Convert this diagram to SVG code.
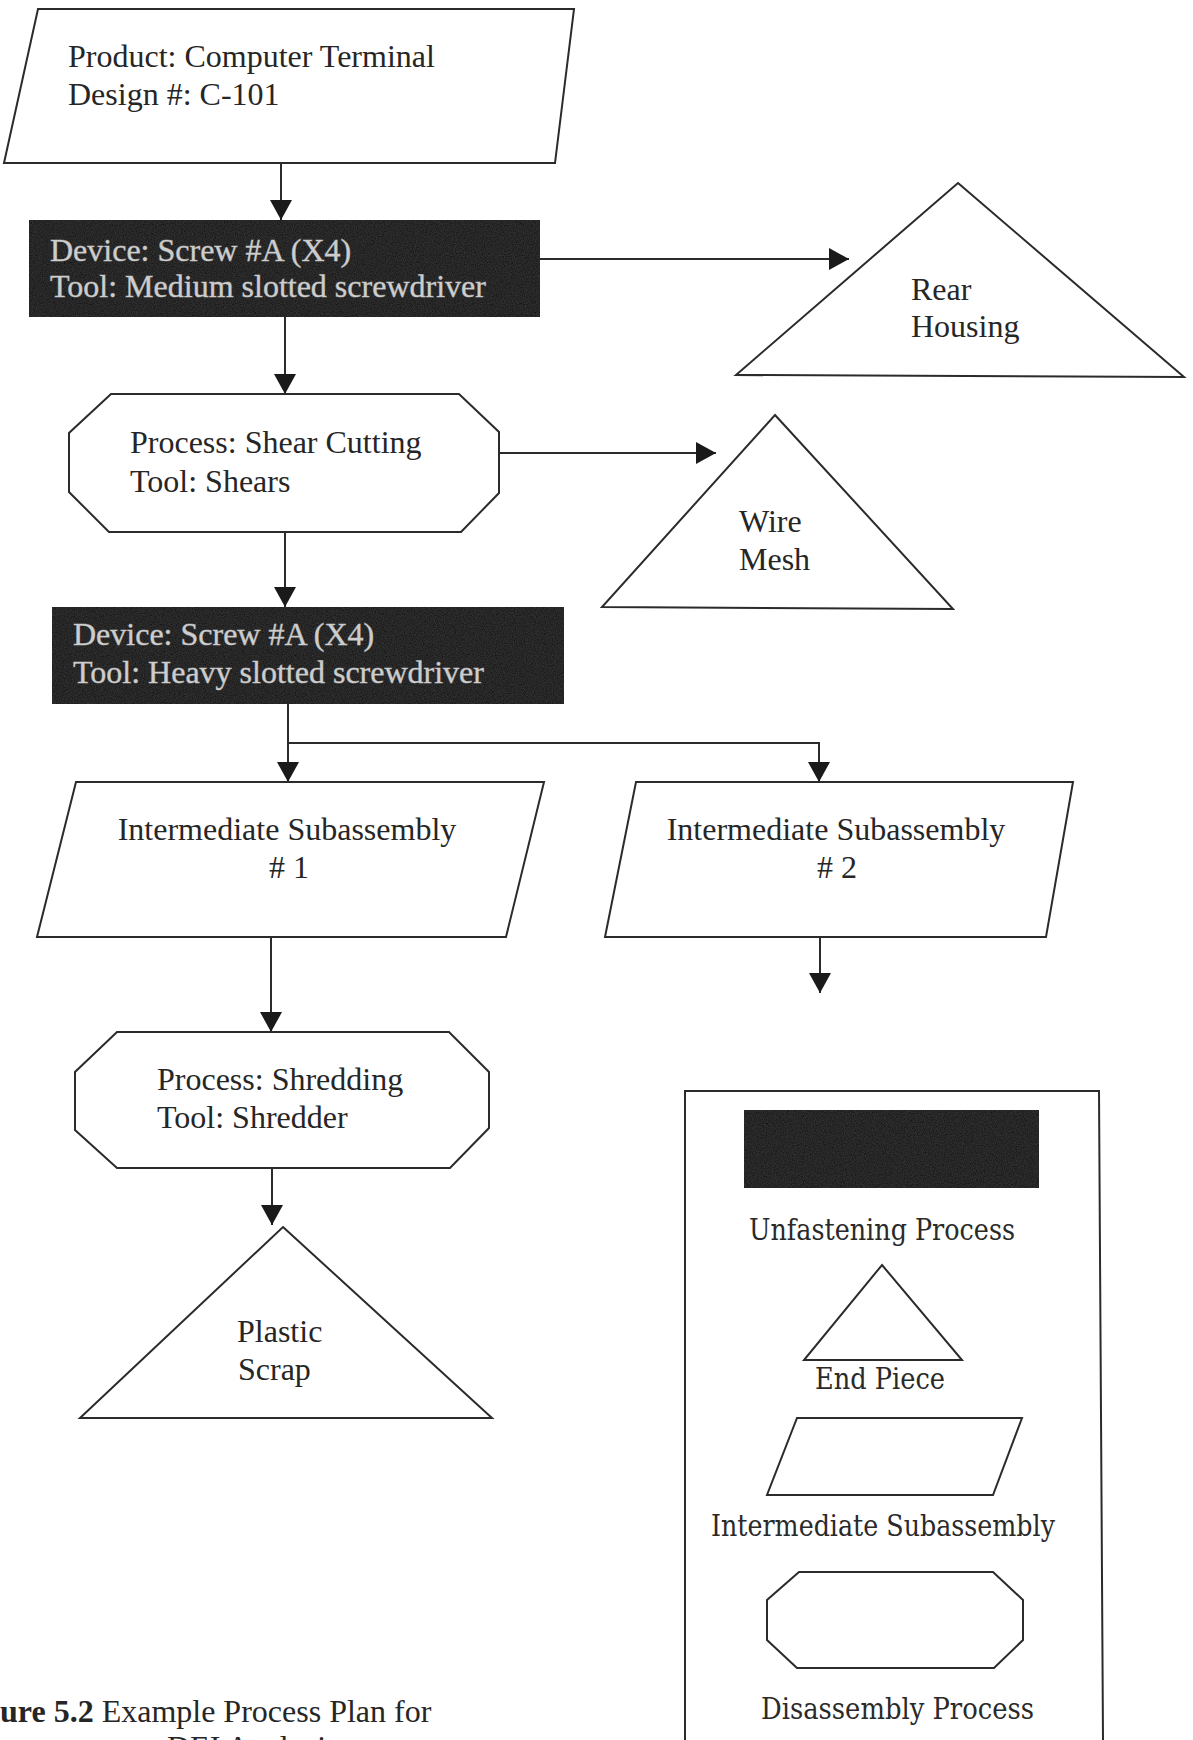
<svg xmlns="http://www.w3.org/2000/svg" width="1193" height="1740" viewBox="0 0 1193 1740">
  <defs>
    <style>
      .shape { fill: #ffffff; stroke: #2b2b2b; stroke-width: 2; }
      .dark { fill: #0f0f0f; stroke: #0a0a0a; stroke-width: 2; }
      .edge { fill: none; stroke: #2b2b2b; stroke-width: 2; }
      .t { font-family: "Liberation Serif", "Times New Roman", serif; font-size: 32px; fill: #262626; }
      .td { font-family: "Liberation Serif", "Times New Roman", serif; font-size: 32px; fill: #cdcdcd; stroke: #7a7a7a; stroke-width: 0.8; paint-order: stroke; }
      .lg { font-family: "DejaVu Serif", "Liberation Serif", serif; font-size: 29px; fill: #2a2a2a; }
      .mid { text-anchor: middle; }
    </style>
    <marker id="arrow" markerUnits="userSpaceOnUse" markerWidth="22" markerHeight="22" refX="20" refY="11" orient="auto">
      <path d="M0,0 L20,11 L0,22 Z" fill="#1a1a1a"/>
    </marker>
    <!-- faint grain on the solid unfastening boxes -->
    <filter id="grain" x="0" y="0" width="100%" height="100%">
      <feTurbulence type="fractalNoise" baseFrequency="0.9" numOctaves="2" seed="3" result="noise"/>
      <feColorMatrix in="noise" type="matrix" values="0 0 0 0 0.45  0 0 0 0 0.45  0 0 0 0 0.45  0 0 0 0.09 0" result="speck"/>
      <feComposite in="speck" in2="SourceGraphic" operator="in" result="clip"/>
      <feMerge><feMergeNode in="SourceGraphic"/><feMergeNode in="clip"/></feMerge>
    </filter>
  </defs>

  <rect width="1193" height="1740" fill="#ffffff"/>

  <!-- connectors -->
  <g id="connectors">
    <path class="edge" d="M281,163 V220" marker-end="url(#arrow)"/>
    <path class="edge" d="M540,259 H849" marker-end="url(#arrow)"/>
    <path class="edge" d="M285,317 V394" marker-end="url(#arrow)"/>
    <path class="edge" d="M499,453 H716" marker-end="url(#arrow)"/>
    <path class="edge" d="M285,532 V607" marker-end="url(#arrow)"/>
    <path class="edge" d="M288,704 V782" marker-end="url(#arrow)"/>
    <path class="edge" d="M288,743 H819 V782" marker-end="url(#arrow)"/>
    <path class="edge" d="M271,937 V1032" marker-end="url(#arrow)"/>
    <path class="edge" d="M820,937 V993" marker-end="url(#arrow)"/>
    <path class="edge" d="M272,1168 V1225" marker-end="url(#arrow)"/>
  </g>

  <!-- product -->
  <g id="product">
    <polygon class="shape" points="38,9 574,9 555,163 4,163"/>
    <text class="t" x="68" y="67">Product: Computer Terminal</text>
    <text class="t" x="68" y="105">Design #: C-101</text>
  </g>

  <!-- first unfastening step -->
  <g id="unfasten-1">
    <rect class="dark" x="29" y="220" width="511" height="97" filter="url(#grain)"/>
    <text class="td" x="50" y="261">Device: Screw #A (X4)</text>
    <text class="td" x="50" y="297">Tool: Medium slotted screwdriver</text>
  </g>

  <!-- rear housing end piece -->
  <g id="rear-housing">
    <polygon class="shape" points="958,183 1184,377 736,375"/>
    <text class="t" x="911" y="300">Rear</text>
    <text class="t" x="911" y="337">Housing</text>
  </g>

  <!-- shear cutting -->
  <g id="shear-cutting">
    <polygon class="shape" points="111,394 459,394 499,432 499,493 461,532 109,532 69,492 69,433"/>
    <text class="t" x="130" y="453">Process: Shear Cutting</text>
    <text class="t" x="130" y="492">Tool: Shears</text>
  </g>

  <!-- wire mesh end piece -->
  <g id="wire-mesh">
    <polygon class="shape" points="775,415 953,609 602,607"/>
    <text class="t" x="739" y="532">Wire</text>
    <text class="t" x="739" y="570">Mesh</text>
  </g>

  <!-- second unfastening step -->
  <g id="unfasten-2">
    <rect class="dark" x="52" y="607" width="512" height="97" filter="url(#grain)"/>
    <text class="td" x="73" y="645">Device: Screw #A (X4)</text>
    <text class="td" x="73" y="683">Tool: Heavy slotted screwdriver</text>
  </g>

  <!-- subassemblies -->
  <g id="subassembly-1">
    <polygon class="shape" points="76,782 544,782 506,937 37,937"/>
    <text class="t mid" x="287" y="840">Intermediate Subassembly</text>
    <text class="t mid" x="289" y="878"># 1</text>
  </g>
  <g id="subassembly-2">
    <polygon class="shape" points="636,782 1073,782 1046,937 605,937"/>
    <text class="t mid" x="836" y="840">Intermediate Subassembly</text>
    <text class="t mid" x="837" y="878"># 2</text>
  </g>

  <!-- shredding -->
  <g id="shredding">
    <polygon class="shape" points="117,1032 449,1032 489,1072 489,1128 450,1168 117,1168 75,1130 75,1072"/>
    <text class="t" x="157" y="1090">Process: Shredding</text>
    <text class="t" x="157" y="1128">Tool: Shredder</text>
  </g>

  <!-- plastic scrap end piece -->
  <g id="plastic-scrap">
    <polygon class="shape" points="283,1227 492,1418 80,1418"/>
    <text class="t" x="237" y="1342">Plastic</text>
    <text class="t" x="238" y="1380">Scrap</text>
  </g>

  <!-- legend -->
  <g id="legend">
    <path class="edge" d="M685,1740 V1091 H1099 L1103,1740"/>
    <rect class="dark" x="744" y="1110" width="295" height="78" filter="url(#grain)"/>
    <text class="lg" x="749" y="1240" textLength="266" lengthAdjust="spacingAndGlyphs">Unfastening Process</text>
    <polygon class="shape" points="882,1265 962,1360 804,1360"/>
    <text class="lg" x="815" y="1389" textLength="130" lengthAdjust="spacingAndGlyphs">End Piece</text>
    <polygon class="shape" points="797,1418 1022,1418 993,1495 767,1495"/>
    <text class="lg" x="711" y="1536" textLength="344" lengthAdjust="spacingAndGlyphs">Intermediate Subassembly</text>
    <polygon class="shape" points="799,1572 993,1572 1023,1600 1023,1640 994,1668 797,1668 767,1640 767,1600"/>
    <text class="lg" x="761" y="1719" textLength="273" lengthAdjust="spacingAndGlyphs">Disassembly Process</text>
  </g>

  <!-- caption -->
  <g id="caption">
    <text class="t" x="0" y="1722"><tspan font-weight="bold">ure 5.2</tspan> Example Process Plan for</text>
    <text class="t" x="167" y="1758">DEI Analysis</text>
  </g>
</svg>
